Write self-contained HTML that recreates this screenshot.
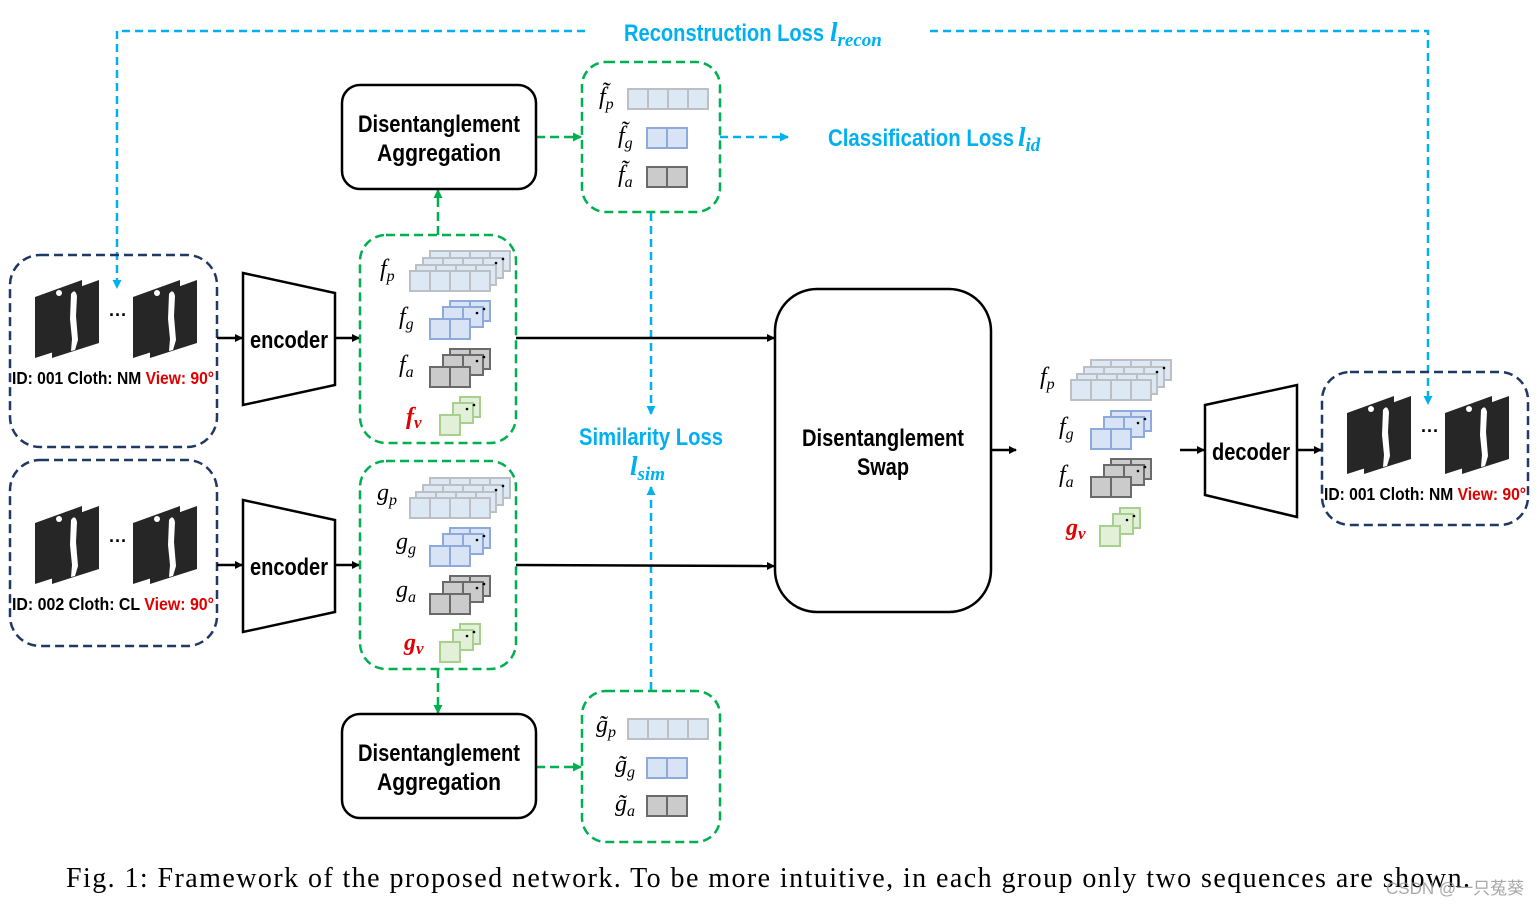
<!DOCTYPE html>
<html><head><meta charset="utf-8"><style>
html,body{margin:0;padding:0;background:#fff;}
svg{display:block;}
.b{font-family:"Liberation Sans",sans-serif;font-weight:bold;}
.m{font-family:"Liberation Serif",serif;font-style:italic;}
</style></head><body>
<svg width="1538" height="906" viewBox="0 0 1538 906" xmlns="http://www.w3.org/2000/svg">
<defs>
<marker id="ab" markerWidth="8" markerHeight="8" refX="7" refY="4" orient="auto" markerUnits="userSpaceOnUse"><path d="M0,0 L8,4 L0,8z" fill="#000"/></marker>
<marker id="ac" markerWidth="9" markerHeight="9" refX="8" refY="4.5" orient="auto" markerUnits="userSpaceOnUse"><path d="M0,0 L9,4.5 L0,9z" fill="#00b0f0"/></marker>
<marker id="ag" markerWidth="9" markerHeight="9" refX="8" refY="4.5" orient="auto" markerUnits="userSpaceOnUse"><path d="M0,0 L9,4.5 L0,9z" fill="#00b050"/></marker>
<g id="pl"><rect x="0" y="0" width="80" height="20" fill="#dde8f5" stroke="#bcc0c4" stroke-width="2"/><path d="M20,0v20M40,0v20M60,0v20" stroke="#bcc0c4" stroke-width="2"/></g>
<g id="gl"><rect x="0" y="0" width="40" height="20" fill="#d8e3f6" stroke="#8eaadb" stroke-width="2"/><path d="M20,0v20" stroke="#8eaadb" stroke-width="2"/></g>
<g id="al"><rect x="0" y="0" width="40" height="20" fill="#cbcbcb" stroke="#6a6a6a" stroke-width="2"/><path d="M20,0v20" stroke="#6a6a6a" stroke-width="2"/></g>
<g id="vl"><rect x="0" y="0" width="20" height="20" fill="#e2efd9" stroke="#a8d08d" stroke-width="2"/></g>
<g id="sp"><use href="#pl" x="20" y="-20"/><use href="#pl" x="13" y="-13"/><use href="#pl" x="6" y="-6"/><use href="#pl" x="0" y="0"/><circle cx="86" cy="-8" r="1.3"/><circle cx="93" cy="-12" r="1.3"/></g>
<g id="sg"><use href="#gl" x="20" y="-18"/><use href="#gl" x="13" y="-12"/><use href="#gl" x="0" y="0"/><circle cx="47" cy="-6" r="1.3"/><circle cx="54" cy="-10" r="1.3"/></g>
<g id="sa"><use href="#al" x="20" y="-18"/><use href="#al" x="13" y="-12"/><use href="#al" x="0" y="0"/><circle cx="47" cy="-6" r="1.3"/><circle cx="54" cy="-10" r="1.3"/></g>
<g id="sv"><use href="#vl" x="20" y="-18"/><use href="#vl" x="13" y="-12"/><use href="#vl" x="0" y="0"/><circle cx="27" cy="-6" r="1.3"/><circle cx="34" cy="-10" r="1.3"/></g>
<g id="fr"><polygon points="0,17 47,0 47,63 0,78" fill="#262626"/><polygon points="17,17 64,0 64,63 17,78" fill="#262626"/><path d="M36,14 q4,-6 6,2 l-1,20 l2,24 l-3,10 l-4,1 l1,-12 l-2,-20z" fill="#fff"/><circle cx="24" cy="13" r="3" fill="#fff"/></g>
<g id="seq"><use href="#fr" x="0" y="0"/><text x="74" y="41" font-family="Liberation Sans" font-weight="bold" font-size="18">···</text><use href="#fr" x="98" y="0"/></g>
</defs>

<g stroke="#00b0f0" stroke-width="2.5" stroke-dasharray="8,5" fill="none">
<path d="M585,31 H117 V288" marker-end="url(#ac)"/>
<path d="M930,31 H1428 V404" marker-end="url(#ac)"/>
<path d="M720,137 H788" marker-end="url(#ac)"/>
<path d="M651,213 V414" marker-end="url(#ac)"/>
<path d="M651,690 V487" marker-end="url(#ac)"/>
</g>
<text x="624" y="41" class="b" font-size="24" fill="#00b0f0" textLength="200" lengthAdjust="spacingAndGlyphs">Reconstruction Loss</text>
<text x="830" y="41" class="m" font-size="27" fill="#00b0f0" font-weight="bold">l<tspan font-size="19" dy="5">recon</tspan></text>
<text x="828" y="146" class="b" font-size="24" fill="#00b0f0" textLength="186" lengthAdjust="spacingAndGlyphs">Classification Loss</text>
<text x="1018" y="146" class="m" font-size="27" fill="#00b0f0" font-weight="bold">l<tspan font-size="19" dy="5">id</tspan></text>
<text x="579" y="445" class="b" font-size="24" fill="#00b0f0" textLength="144" lengthAdjust="spacingAndGlyphs">Similarity Loss</text>
<text x="630" y="475" class="m" font-size="27" fill="#00b0f0" font-weight="bold">l<tspan font-size="19" dy="5">sim</tspan></text>

<rect x="10" y="255" width="207" height="192" rx="30" fill="none" stroke="#1f3864" stroke-width="2.5" stroke-dasharray="9,5"/>
<rect x="10" y="460" width="207" height="186" rx="30" fill="none" stroke="#1f3864" stroke-width="2.5" stroke-dasharray="9,5"/>
<use href="#seq" x="35" y="280"/>
<use href="#seq" x="35" y="506"/>
<text x="12" y="384" class="b" font-size="17.5" textLength="202" lengthAdjust="spacingAndGlyphs">ID: 001 Cloth: NM <tspan fill="#e00000">View: 90°</tspan></text>
<text x="12" y="610" class="b" font-size="17.5" textLength="202" lengthAdjust="spacingAndGlyphs">ID: 002 Cloth: CL <tspan fill="#e00000">View: 90°</tspan></text>

<polygon points="243,273 335,293 335,385 243,405" fill="#fff" stroke="#000" stroke-width="2.5"/>
<polygon points="243,500 335,520 335,612 243,632" fill="#fff" stroke="#000" stroke-width="2.5"/>
<text x="289" y="348" class="b" font-size="24" text-anchor="middle" textLength="78" lengthAdjust="spacingAndGlyphs">encoder</text>
<text x="289" y="575" class="b" font-size="24" text-anchor="middle" textLength="78" lengthAdjust="spacingAndGlyphs">encoder</text>

<g stroke="#000" stroke-width="2.5" fill="none">
<path d="M217,338 H242" marker-end="url(#ab)"/>
<path d="M335,338 H359" marker-end="url(#ab)"/>
<path d="M217,565 H242" marker-end="url(#ab)"/>
<path d="M335,565 H359" marker-end="url(#ab)"/>
<path d="M516,338 H774" marker-end="url(#ab)"/>
<path d="M516,565 L774,566" marker-end="url(#ab)"/>
<path d="M991,450 H1016" marker-end="url(#ab)"/>
<path d="M1180,450 H1204" marker-end="url(#ab)"/>
<path d="M1297,450 H1321" marker-end="url(#ab)"/>
</g>

<g fill="none" stroke="#00b050" stroke-width="2.5" stroke-dasharray="9,5">
<rect x="360" y="235" width="156" height="208" rx="26"/>
<rect x="360" y="461" width="156" height="208" rx="26"/>
<rect x="582" y="62" width="138" height="150" rx="24"/>
<rect x="582" y="691" width="138" height="151" rx="24"/>
<path d="M438,235 V190" marker-end="url(#ag)"/>
<path d="M536,137 H581" marker-end="url(#ag)"/>
<path d="M438,669 V713" marker-end="url(#ag)"/>
<path d="M536,767 H581" marker-end="url(#ag)"/>
</g>

<use href="#sp" x="410" y="271"/><use href="#sg" x="430" y="319"/><use href="#sa" x="430" y="367"/><use href="#sv" x="440" y="415"/>
<text x="380" y="276" class="m" font-size="24">f<tspan font-size="16" dy="5">p</tspan></text>
<text x="399" y="324" class="m" font-size="24">f<tspan font-size="16" dy="5">g</tspan></text>
<text x="399" y="372" class="m" font-size="24">f<tspan font-size="16" dy="5">a</tspan></text>
<text x="406" y="424" class="m" font-size="24" fill="#e00000" font-weight="bold">f<tspan font-size="17" dy="4">v</tspan></text>

<use href="#sp" x="410" y="498"/><use href="#sg" x="430" y="546"/><use href="#sa" x="430" y="594"/><use href="#sv" x="440" y="642"/>
<text x="377" y="500" class="m" font-size="24">g<tspan font-size="16" dy="5">p</tspan></text>
<text x="396" y="549" class="m" font-size="24">g<tspan font-size="16" dy="5">g</tspan></text>
<text x="396" y="597" class="m" font-size="24">g<tspan font-size="16" dy="5">a</tspan></text>
<text x="404" y="650" class="m" font-size="24" fill="#e00000" font-weight="bold">g<tspan font-size="17" dy="4">v</tspan></text>

<use href="#pl" x="628" y="89"/><use href="#gl" x="647" y="128"/><use href="#al" x="647" y="167"/>
<text x="599" y="104" class="m" font-size="24">f̃<tspan font-size="16" dy="5">p</tspan></text>
<text x="618" y="143" class="m" font-size="24">f̃<tspan font-size="16" dy="5">g</tspan></text>
<text x="618" y="182" class="m" font-size="24">f̃<tspan font-size="16" dy="5">a</tspan></text>
<use href="#pl" x="628" y="719"/><use href="#gl" x="647" y="758"/><use href="#al" x="647" y="796"/>
<text x="596" y="732" class="m" font-size="24">g̃<tspan font-size="16" dy="5">p</tspan></text>
<text x="615" y="772" class="m" font-size="24">g̃<tspan font-size="16" dy="5">g</tspan></text>
<text x="615" y="811" class="m" font-size="24">g̃<tspan font-size="16" dy="5">a</tspan></text>

<rect x="342" y="85" width="194" height="104" rx="18" fill="#fff" stroke="#000" stroke-width="2.5"/>
<text x="439" y="132" class="b" font-size="24" text-anchor="middle" textLength="162" lengthAdjust="spacingAndGlyphs">Disentanglement</text>
<text x="439" y="161" class="b" font-size="24" text-anchor="middle" textLength="124" lengthAdjust="spacingAndGlyphs">Aggregation</text>
<rect x="342" y="714" width="194" height="104" rx="18" fill="#fff" stroke="#000" stroke-width="2.5"/>
<text x="439" y="761" class="b" font-size="24" text-anchor="middle" textLength="162" lengthAdjust="spacingAndGlyphs">Disentanglement</text>
<text x="439" y="790" class="b" font-size="24" text-anchor="middle" textLength="124" lengthAdjust="spacingAndGlyphs">Aggregation</text>

<rect x="775" y="289" width="216" height="323" rx="42" fill="#fff" stroke="#000" stroke-width="2.5"/>
<text x="883" y="446" class="b" font-size="24" text-anchor="middle" textLength="162" lengthAdjust="spacingAndGlyphs">Disentanglement</text>
<text x="883" y="475" class="b" font-size="24" text-anchor="middle" textLength="52" lengthAdjust="spacingAndGlyphs">Swap</text>

<use href="#sp" x="1071" y="380"/><use href="#sg" x="1091" y="429"/><use href="#sa" x="1091" y="477"/><use href="#sv" x="1100" y="526"/>
<text x="1040" y="384" class="m" font-size="24">f<tspan font-size="16" dy="5">p</tspan></text>
<text x="1059" y="434" class="m" font-size="24">f<tspan font-size="16" dy="5">g</tspan></text>
<text x="1059" y="482" class="m" font-size="24">f<tspan font-size="16" dy="5">a</tspan></text>
<text x="1066" y="535" class="m" font-size="24" fill="#e00000" font-weight="bold">g<tspan font-size="17" dy="4">v</tspan></text>

<polygon points="1205,405 1297,385 1297,517 1205,495" fill="#fff" stroke="#000" stroke-width="2.5"/>
<text x="1251" y="460" class="b" font-size="24" text-anchor="middle" textLength="78" lengthAdjust="spacingAndGlyphs">decoder</text>

<rect x="1322" y="372" width="206" height="153" rx="28" fill="none" stroke="#1f3864" stroke-width="2.5" stroke-dasharray="9,5"/>
<use href="#seq" x="1347" y="396"/>
<text x="1324" y="500" class="b" font-size="17.5" textLength="202" lengthAdjust="spacingAndGlyphs">ID: 001 Cloth: NM <tspan fill="#e00000">View: 90°</tspan></text>

<text x="66" y="887" font-family="Liberation Serif,serif" font-size="28" textLength="1404" lengthAdjust="spacing">Fig. 1: Framework of the proposed network. To be more intuitive, in each group only two sequences are shown.</text>
<text x="1386" y="894" font-family="Liberation Sans,'Noto Sans CJK SC',sans-serif" font-size="17" fill="#999" opacity="0.85">CSDN @一只菟葵</text>
</svg>
</body></html>
